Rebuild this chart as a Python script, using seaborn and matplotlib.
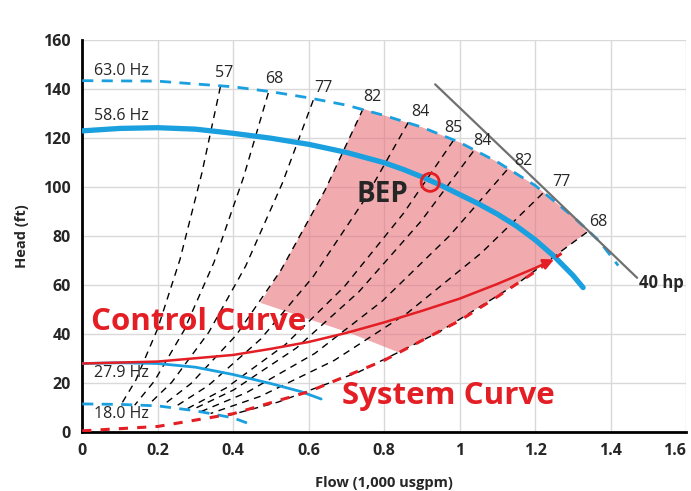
import matplotlib
matplotlib.use("Agg")
import matplotlib.pyplot as plt
import seaborn as sns

# pump curves (flow in 1,000 usgpm, head in ft)
q_586 = [0, 0.1, 0.2, 0.3, 0.4, 0.5, 0.6, 0.7, 0.8, 0.85, 0.9, 0.95, 1.0, 1.05,
         1.1, 1.15, 1.2, 1.25, 1.3, 1.327]
h_586 = [123, 124, 124.3, 123.7, 122, 120, 117.5, 114.2, 110, 107.3, 104.2, 100.8,
         97, 93.2, 89, 84.2, 78.5, 71.8, 64, 59]
q_630 = [0, 0.2, 0.4, 0.5, 0.6, 0.7, 0.8, 0.9, 1.0, 1.1, 1.2, 1.3, 1.37, 1.42]
h_630 = [143.5, 143.3, 141, 139, 136.5, 133.5, 129.3, 124.5, 118.3, 110.3, 100.7, 88, 78, 68]
q_279 = [0, 0.1, 0.2, 0.3, 0.4, 0.5, 0.58, 0.633]
h_279 = [28, 28.3, 28, 26.5, 23.5, 19.8, 16.5, 13.5]
q_180 = [0, 0.1, 0.2, 0.3, 0.4, 0.437]
h_180 = [11.5, 11.3, 10.7, 8.7, 5.8, 3.7]

# 40 hp power limit
q_hp = [0.935, 1.2, 1.47]
h_hp = [142, 103, 63]

# system and control curves
q_sys = [0, 0.2, 0.4, 0.6, 0.8, 1.0, 1.1, 1.2, 1.27]
h_sys = [0.5, 2.3, 7.5, 16.5, 29.3, 45.5, 55.3, 65.5, 73]
q_ctrl = [0, 0.2, 0.4, 0.5, 0.6, 0.7, 0.8, 0.9, 1.0, 1.1, 1.2, 1.25]
h_ctrl = [28, 28.8, 31.5, 34, 36.8, 40.5, 44.8, 49.5, 54.5, 60.5, 67, 70.5]

# iso-efficiency lines
eff_labels = ['57', '68', '77', '82', '84', '85', '84', '82', '77', '68']
eff_q = [
    [0.366, 0.317, 0.259, 0.200, 0.142, 0.102],
    [0.493, 0.427, 0.349, 0.270, 0.191, 0.139],
    [0.612, 0.530, 0.433, 0.335, 0.237, 0.173],
    [0.744, 0.644, 0.526, 0.408, 0.288, 0.210],
    [0.864, 0.748, 0.611, 0.473, 0.334, 0.245],
    [0.983, 0.851, 0.695, 0.538, 0.380, 0.275],
    [1.036, 0.897, 0.733, 0.568, 0.401, 0.290],
    [1.125, 0.974, 0.795, 0.616, 0.435, 0.315],
    [1.220, 1.057, 0.863, 0.668, 0.472, 0.340],
    [1.337, 1.158, 0.945, 0.732, 0.518, 0.390],
]
eff_h = [
    [141, 105.8, 70.5, 42.3, 21.2, 11],
    [138.5, 103.9, 69.3, 41.6, 20.8, 11],
    [135.5, 101.6, 67.8, 40.7, 20.3, 10.8],
    [132, 99, 66, 39.6, 19.8, 10.5],
    [126.5, 94.9, 63.3, 38, 19, 10.2],
    [119, 89.3, 59.5, 35.7, 17.9, 9.3],
    [114.6, 86, 57.3, 34.4, 17.2, 9.0],
    [107, 80.3, 53.5, 32.1, 16.1, 8.4],
    [97.5, 73.1, 48.8, 29.3, 14.6, 7.6],
    [81.6, 61.2, 40.8, 24.5, 12.2, 6.9],
]
eff_label_q = [0.376, 0.51, 0.64, 0.77, 0.895, 0.983, 1.06, 1.168, 1.27, 1.366]
eff_label_h = [146.8, 144, 140.6, 137, 130.7, 124, 119, 110.5, 102, 85.8]

# preferred operating region
region_q = [0.472, 0.526, 0.644, 0.744, 0.8, 0.9, 1.0, 1.1, 1.2, 1.3, 1.337,
            1.158, 0.945, 0.837, 0.71, 0.622]
region_h = [52.8, 66, 99, 132, 129.3, 124.5, 118.3, 110.3, 100.7, 88, 81.6,
            61.2, 40.8, 32.6, 40.4, 45]

bep_q, bep_h = 0.922, 102

blue = '#1a9fdf'
red = '#e31e24'

sns.set_style('whitegrid')
plt.rcParams['font.family'] = ['Open Sans', 'DejaVu Sans']

fig = plt.figure(figsize=(6.91, 4.91), dpi=100)
ax = fig.add_axes([0.119, 0.12, 0.874, 0.798])

ax.fill(region_q, region_h, color='#e8737a', alpha=0.6, lw=0, zorder=1)

for qs, hs in zip(eff_q, eff_h):
    sns.lineplot(x=qs, y=hs, ax=ax, sort=False, estimator=None, color='black',
                 lw=1.0, linestyle=(0, (5, 4)), zorder=3)
for lab, lq, lh in zip(eff_labels, eff_label_q, eff_label_h):
    ax.text(lq, lh, lab, fontsize=11.5, ha='center', va='center', zorder=6)

sns.lineplot(x=q_630, y=h_630, ax=ax, sort=False, estimator=None, color=blue,
             lw=2, linestyle=(0, (4, 3)), zorder=4)
sns.lineplot(x=q_586, y=h_586, ax=ax, sort=False, estimator=None, color=blue,
             lw=3.8, zorder=4)
sns.lineplot(x=q_279, y=h_279, ax=ax, sort=False, estimator=None, color=blue,
             lw=2, zorder=4)
sns.lineplot(x=q_180, y=h_180, ax=ax, sort=False, estimator=None, color=blue,
             lw=2, linestyle=(0, (4, 3)), zorder=4)
sns.lineplot(x=q_hp, y=h_hp, ax=ax, sort=False, estimator=None, color='#707070',
             lw=1.6, zorder=5)
sns.lineplot(x=q_sys, y=h_sys, ax=ax, sort=False, estimator=None, color=red,
             lw=2.2, linestyle=(0, (3, 3)), zorder=4)
sns.lineplot(x=q_ctrl[:-1], y=h_ctrl[:-1], ax=ax, sort=False, estimator=None,
             color=red, lw=1.8, zorder=5)
ax.annotate('', xy=(q_ctrl[-1], h_ctrl[-1]), xytext=(q_ctrl[-2], h_ctrl[-2]),
            arrowprops=dict(arrowstyle='-|>', color=red, lw=1.8,
                            mutation_scale=16, shrinkA=0, shrinkB=0), zorder=5)

sns.scatterplot(x=[bep_q], y=[bep_h], ax=ax, s=170, facecolors='none',
                edgecolor=red, linewidth=2, zorder=7)

ax.text(0.03, 147.5, '63.0 Hz', fontsize=11.5, va='center')
ax.text(0.03, 129, '58.6 Hz', fontsize=11.5, va='center')
ax.text(0.03, 24, '27.9 Hz', fontsize=11.5, va='center')
ax.text(0.03, 7.4, '18.0 Hz', fontsize=11.5, va='center')
ax.text(1.475, 61, '40 hp', fontsize=12, va='center', fontweight='bold')
ax.text(0.796, 97, 'BEP', fontsize=20, fontweight='bold', ha='center', va='center')
ax.text(0.024, 45, 'Control Curve', fontsize=22.5, color=red, va='center',
        fontweight='bold')
ax.text(0.687, 14.8, 'System Curve', fontsize=22.5, color=red, va='center',
        fontweight='bold')

ax.set_xlim(0, 1.6)
ax.set_ylim(0, 160)
ax.set_xticks([0, 0.2, 0.4, 0.6, 0.8, 1.0, 1.2, 1.4, 1.6])
ax.set_xticklabels(['0', '0.2', '0.4', '0.6', '0.8', '1', '1.2', '1.4', '1.6'])
ax.set_yticks(range(0, 161, 20))
ax.grid(True, color='#d9d9d9', lw=1)
ax.set_axisbelow(True)
for side in ['top', 'right']:
    ax.spines[side].set_visible(False)
for side in ['left', 'bottom']:
    ax.spines[side].set_color('black')
    ax.spines[side].set_linewidth(2)
ax.tick_params(length=0, labelsize=11.5, pad=8)
for lbl in ax.get_xticklabels() + ax.get_yticklabels():
    lbl.set_fontweight('bold')
ax.get_xticklabels()[-1].set_horizontalalignment('right')
ax.set_xlabel('Flow (1,000 usgpm)', fontsize=10.5, fontweight='bold', labelpad=12)
ax.set_ylabel('Head (ft)', fontsize=10.5, fontweight='bold', labelpad=10)

fig.savefig('out.png', dpi=100)
